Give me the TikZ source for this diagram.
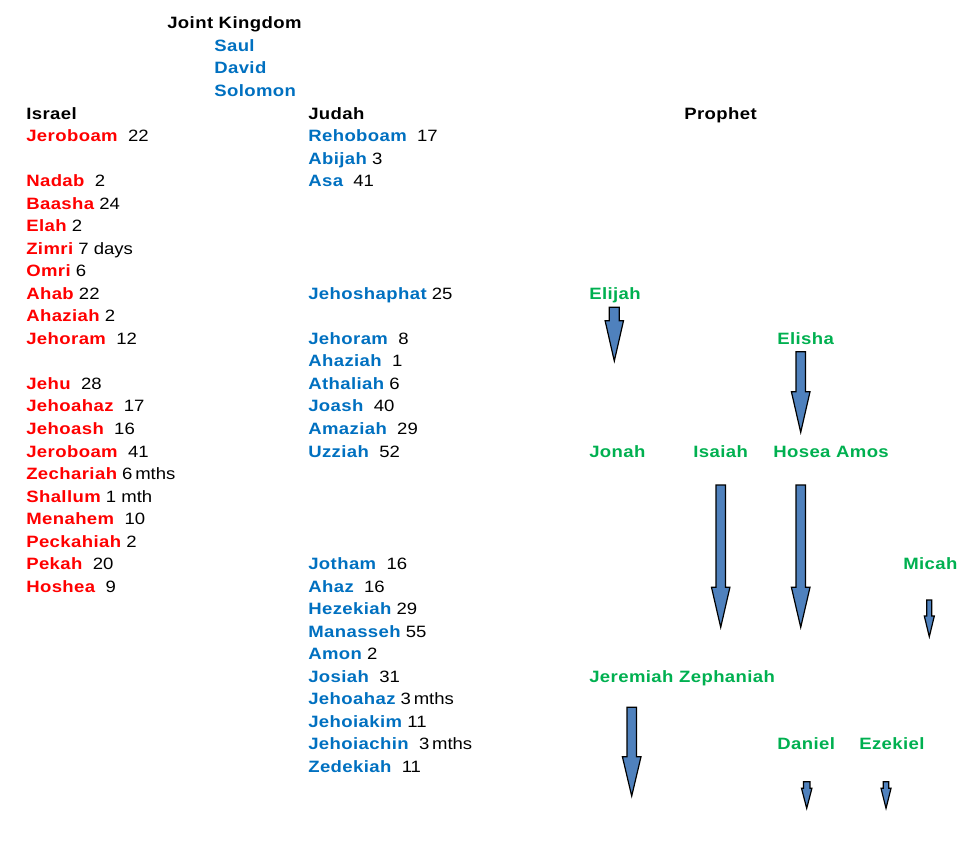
\documentclass[tikz,border=0pt]{standalone}
\usepackage{fontspec}
\setmainfont{Liberation Sans}[FakeStretch=1.13, BoldFeatures={LetterSpace=2.5}]
\usepackage{tikz}
\usetikzlibrary{positioning, calc}
\usepackage{xcolor}
\definecolor{israelred}{HTML}{FF0000}
\definecolor{judahblue}{HTML}{0070C0}
\definecolor{prophetgreen}{HTML}{00B050}
\definecolor{arrowblue}{HTML}{4F81BD}
\newcommand{\isr}[1]{\textcolor{israelred}{\bfseries #1}}
\newcommand{\jud}[1]{\textcolor{judahblue}{\bfseries #1}}
% block arrow: centre x, top, neck, tip, half shaft, half head
\newcommand{\prophetarrow}[6]{%
  \draw[blockarrow] (#1-#5,#2) -- (#1+#5,#2) -- (#1+#5,#3) -- (#1+#6,#3)
    -- (#1,#4) -- (#1-#6,#3) -- (#1-#5,#3) -- cycle;}

\begin{document}
\begin{tikzpicture}[
  x=0.75pt, y=-16.9pt,
  king/.style={anchor=base west, inner sep=0pt, font=\fontsize{12.3}{14}\selectfont},
  head/.style={king, font=\fontsize{12.3}{14}\selectfont\bfseries},
  prophet/.style={head, text=prophetgreen},
  blockarrow/.style={fill=arrowblue, draw=black, line width=0.9pt, line join=miter},
]
\useasboundingbox (0,-5.281) rectangle (973,32.041);

% ---- Joint kingdom ----
\node[head] (joint) at (167,-4) {Joint Kingdom};
\node[head, text=judahblue] (saul) at (214,-3) {Saul};
\node[head, text=judahblue] (david) at (214,-2) {David};
\node[head, text=judahblue] (solomon) at (214,-1) {Solomon};

% ---- Column headers ----
\node[head] (israel) at (26,0) {Israel};
\node[head] (judah) at (308,0) {Judah};
\node[head] (prophethead) at (684,0) {Prophet};

% ---- Israel (left) ----
\node[king] (jeroboam) at (26,1) {\isr{Jeroboam}\ \ 22};
\node[king] (nadab) at (26,3) {\isr{Nadab}\ \ 2};
\node[king] (baasha) at (26,4) {\isr{Baasha} 24};
\node[king] (elah) at (26,5) {\isr{Elah} 2};
\node[king] (zimri) at (26,6) {\isr{Zimri} 7 days};
\node[king] (omri) at (26,7) {\isr{Omri} 6};
\node[king] (ahab) at (26,8) {\isr{Ahab} 22};
\node[king] (ahaziah) at (26,9) {\isr{Ahaziah} 2};
\node[king] (jehoram) at (26,10) {\isr{Jehoram}\ \ 12};
\node[king] (jehu) at (26,12) {\isr{Jehu}\ \ 28};
\node[king] (jehoahaz) at (26,13) {\isr{Jehoahaz}\ \ 17};
\node[king] (jehoash) at (26,14) {\isr{Jehoash}\ \ 16};
\node[king] (jeroboamii) at (26,15) {\isr{Jeroboam}\ \ 41};
\node[king] (zechariah) at (26,16) {\isr{Zechariah} 6\,mths};
\node[king] (shallum) at (26,17) {\isr{Shallum}\ 1 mth};
\node[king] (menahem) at (26,18) {\isr{Menahem}\ \ 10};
\node[king] (peckahiah) at (26,19) {\isr{Peckahiah} 2};
\node[king] (pekah) at (26,20) {\isr{Pekah}\ \ 20};
\node[king] (hoshea) at (26,21) {\isr{Hoshea}\ \ 9};

% ---- Judah (middle) ----
\node[king] (rehoboam) at (308,1) {\jud{Rehoboam}\ \ 17};
\node[king] (abijah) at (308,2) {\jud{Abijah} 3};
\node[king] (asa) at (308,3) {\jud{Asa}\ \ 41};
\node[king] (jehoshaphat) at (308,8) {\jud{Jehoshaphat} 25};
\node[king] (jehoramj) at (308,10) {\jud{Jehoram}\ \ 8};
\node[king] (ahaziahj) at (308,11) {\jud{Ahaziah}\ \ 1};
\node[king] (athaliah) at (308,12) {\jud{Athaliah} 6};
\node[king] (joash) at (308,13) {\jud{Joash}\ \ 40};
\node[king] (amaziah) at (308,14) {\jud{Amaziah}\ \ 29};
\node[king] (uzziah) at (308,15) {\jud{Uzziah}\ \ 52};
\node[king] (jotham) at (308,20) {\jud{Jotham}\ \ 16};
\node[king] (ahaz) at (308,21) {\jud{Ahaz}\ \ 16};
\node[king] (hezekiah) at (308,22) {\jud{Hezekiah} 29};
\node[king] (manasseh) at (308,23) {\jud{Manasseh} 55};
\node[king] (amon) at (308,24) {\jud{Amon} 2};
\node[king] (josiah) at (308,25) {\jud{Josiah}\ \ 31};
\node[king] (jehoahazj) at (308,26) {\jud{Jehoahaz} 3\,mths};
\node[king] (jehoiakim) at (308,27) {\jud{Jehoiakim} 11};
\node[king] (jehoiachin) at (308,28) {\jud{Jehoiachin}\ \ 3\,mths};
\node[king] (zedekiah) at (308,29) {\jud{Zedekiah}\ \ 11};

% ---- Prophets (right) ----
\node[prophet] (elijah) at (589,8) {Elijah};
\node[prophet] (elisha) at (777,10) {Elisha};
\node[prophet] (jonah) at (589,15) {Jonah};
\node[prophet] (isaiah) at (693,15) {Isaiah};
\node[prophet] (hosea) at (773,15) {Hosea Amos};
\node[prophet] (micah) at (903,20) {Micah};
\node[prophet] (jeremiah) at (589,25) {Jeremiah Zephaniah};
\node[prophet] (daniel) at (777,28) {Daniel};
\node[prophet] (ezekiel) at (859,28) {Ezekiel};

% Arrows (pixel units)
\begin{scope}[yshift=89.25pt, y=-0.75pt]
\prophetarrow{614.3}{307.3}{320.7}{361}{5}{9.2}
\prophetarrow{800.7}{351.7}{391.7}{432.3}{4.7}{9.3}
\prophetarrow{720.7}{485}{587.3}{627.3}{4.7}{9.2}
\prophetarrow{800.7}{485}{587.3}{627.3}{4.7}{9.3}
\prophetarrow{929.3}{600}{616}{636.7}{2.5}{5}
\prophetarrow{631.7}{707.3}{756.7}{796}{4.7}{9.3}
\prophetarrow{806.7}{781.7}{788.3}{808.3}{3.2}{5.2}
\prophetarrow{886}{781.7}{788.3}{808.3}{2.8}{5}
\end{scope}

\end{tikzpicture}
\end{document}
